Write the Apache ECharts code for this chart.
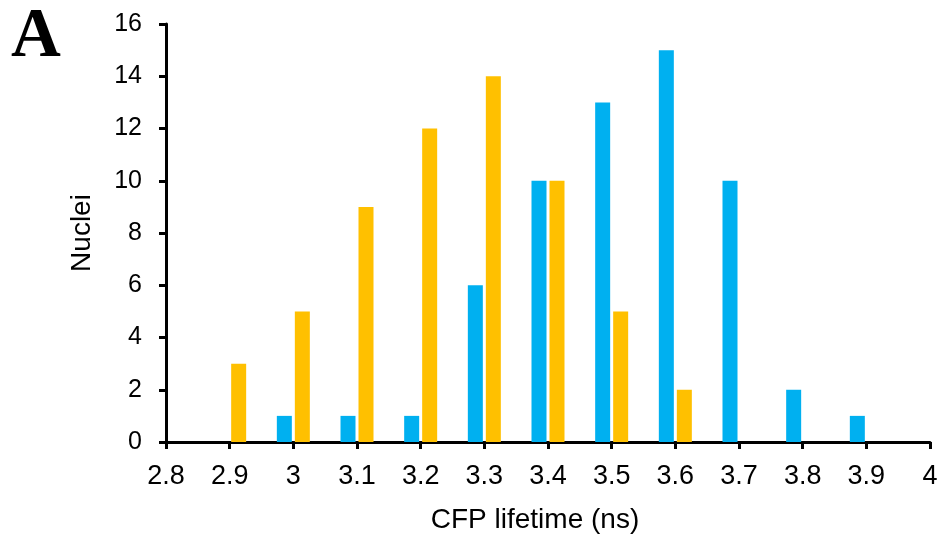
<!DOCTYPE html>
<html>
<head>
<meta charset="utf-8">
<script src="https://cdn.jsdelivr.net/npm/echarts@6/dist/echarts.min.js"></script>
<style>html,body{margin:0;padding:0;background:#fff}#c{width:941px;height:541px}</style>
</head>
<body>
<div id="c"></div>
<script>
const categories = ['2.8','2.9','3','3.1','3.2','3.3','3.4','3.5','3.6','3.7','3.8','3.9','4'];
const blueValues = [0,0,1,1,1,6,10,13,15,10,2,1,0];
const orangeValues = [0,3,5,9,12,14,10,5,2,0,0,0,0];
const yTicks = {min:0, max:16, interval:2};

const chart = echarts.init(document.getElementById('c'), null, {renderer:'canvas'});
const font = 'Arial, "Liberation Sans", sans-serif';
chart.setOption({
  animation:false,
  backgroundColor:'#ffffff',
  graphic:[{type:'text', left:11, top:4, style:{text:'A', font:'bold 69px "Liberation Serif", "Times New Roman", serif', fill:'#000'}}],
  grid:{left:166, right:11, top:24, bottom:99, containLabel:false},
  xAxis:{
    type:'category', data:categories, boundaryGap:false,
    axisLine:{lineStyle:{color:'#000', width:3}},
    axisTick:{alignWithLabel:true, length:7, lineStyle:{color:'#000', width:3}},
    axisLabel:{color:'#000', fontSize:27, fontFamily:font, margin:21, interval:0},
    splitLine:{show:false},
    name:'CFP lifetime (ns)', nameLocation:'middle', nameGap:64,
    nameTextStyle:{color:'#000', fontSize:28, fontFamily:font, padding:[0,26,0,0]}
  },
  yAxis:{
    type:'value', min:yTicks.min, max:yTicks.max, interval:yTicks.interval,
    axisLine:{show:true, lineStyle:{color:'#000', width:3}},
    axisTick:{show:true, length:7, lineStyle:{color:'#000', width:3}},
    axisLabel:{color:'#000', fontSize:25, fontFamily:font, margin:24},
    splitLine:{show:false},
    name:'Nuclei', nameLocation:'middle', nameGap:70,
    nameTextStyle:{color:'#000', fontSize:28, fontFamily:font}
  },
  series:[
    {type:'bar', data:blueValues, barWidth:15, barGap:'20%', itemStyle:{color:'#00B0F0'}},
    {type:'bar', data:orangeValues, barWidth:15, barGap:'20%', itemStyle:{color:'#FFC000'}}
  ]
});
</script>
</body>
</html>
